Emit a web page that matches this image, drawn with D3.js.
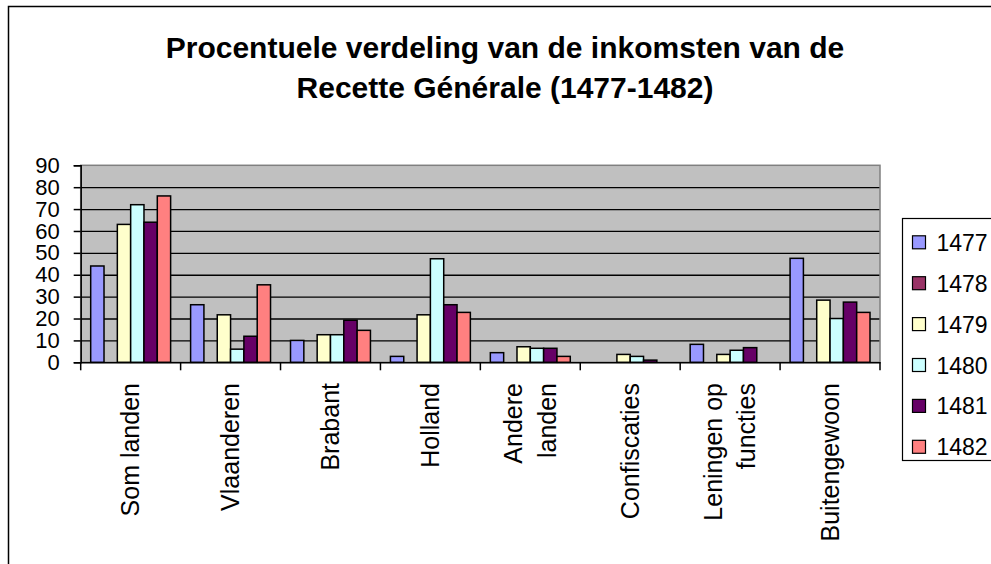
<!DOCTYPE html>
<html>
<head>
<meta charset="utf-8">
<script src="https://cdn.jsdelivr.net/npm/d3@7"></script>
<style>
  body { margin: 0; background: #fff; }
  text { font-family: "Liberation Sans", Arial, sans-serif; }
</style>
</head>
<body>
<div id="chart"></div>
<script>
// Data
const categories = ['Som landen', 'Vlaanderen', 'Brabant', 'Holland', 'Andere landen',
  'Confiscaties', 'Leningen op functies', 'Buitengewoon'];
const categoryLines = [['Som landen'], ['Vlaanderen'], ['Brabant'], ['Holland'], ['Andere', 'landen'],
  ['Confiscaties'], ['Leningen op', 'functies'], ['Buitengewoon']];
const years = ['1477', '1478', '1479', '1480', '1481', '1482'];
const v1477 = [44, 26.3, 10, 2.7, 4.4, 0, 8.2, 47.5];
const v1478 = [null, null, null, null, null, null, null, null];
const v1479 = [63, 21.7, 12.6, 21.7, 7.1, 3.6, 3.6, 28.4];
const v1480 = [72, 6, 12.6, 47.3, 6.4, 2.7, 5.5, 20];
const v1481 = [64, 11.9, 19.2, 26.3, 6.4, 1, 6.7, 27.5];
const v1482 = [76, 35.4, 14.6, 22.8, 2.7, 0, 0, 22.8];
const seriesValues = [v1477, v1478, v1479, v1480, v1481, v1482];
const colors = ['#9999FF', '#993366', '#FFFFCC', '#CCFFFF', '#660066', '#FF8080'];
const yTicks = [0, 10, 20, 30, 40, 50, 60, 70, 80, 90];
const titleLines = ['Procentuele verdeling van de inkomsten van de', 'Recette Générale (1477-1482)'];

const width = 991;
const height = 564;
const plot = { left: 80.7, right: 880, top: 165.3, bottom: 362.3 };

const svg = d3.select('#chart')
  .append('svg')
  .attr('width', width)
  .attr('height', height);

// Outer frame
svg.append('rect')
  .attr('x', 8.5).attr('y', 6.5)
  .attr('width', 1000).attr('height', 600)
  .attr('fill', 'white')
  .attr('stroke', 'black')
  .attr('stroke-width', 1.5);

// Title
svg.append('text')
  .attr('text-anchor', 'middle')
  .style('font-size', '30px')
  .style('font-weight', 'bold')
  .selectAll('tspan')
  .data(titleLines)
  .enter()
  .append('tspan')
  .attr('x', 505)
  .attr('y', (d, i) => 58 + i * 40)
  .text(d => d);

// Scales
const x0 = d3.scaleBand()
  .domain(categories)
  .range([plot.left, plot.right])
  .padding(0);

const x1 = d3.scaleBand()
  .domain(years)
  .range([0, x0.bandwidth()])
  .paddingInner(0)
  .paddingOuter(0.75);

const y = d3.scaleLinear()
  .domain([0, 90])
  .range([plot.bottom, plot.top]);

const color = d3.scaleOrdinal().domain(years).range(colors);

// Plot background
svg.append('rect')
  .attr('x', plot.left).attr('y', plot.top)
  .attr('width', plot.right - plot.left)
  .attr('height', plot.bottom - plot.top)
  .attr('fill', '#C0C0C0');

// Gridlines
const grid = svg.append('g')
  .attr('transform', `translate(${plot.left},0)`)
  .call(d3.axisLeft(y)
    .tickValues(yTicks.filter(t => t > 0 && t < 90))
    .tickSize(-(plot.right - plot.left))
    .tickFormat(''));
grid.select('.domain').remove();
grid.selectAll('.tick line').attr('stroke', 'black').attr('stroke-width', 1.3);

// Plot border
svg.append('rect')
  .attr('x', plot.left).attr('y', plot.top)
  .attr('width', plot.right - plot.left)
  .attr('height', plot.bottom - plot.top)
  .attr('fill', 'none')
  .attr('stroke', '#808080')
  .attr('stroke-width', 1.5);

// Bars
const rows = [];
categories.forEach((c, ci) => {
  years.forEach((yr, si) => {
    const v = seriesValues[si][ci];
    if (v !== null && v > 0) rows.push({ category: c, year: yr, value: v });
  });
});

svg.append('g')
  .selectAll('rect')
  .data(rows)
  .enter()
  .append('rect')
  .attr('x', d => x0(d.category) + x1(d.year))
  .attr('y', d => y(d.value))
  .attr('width', x1.bandwidth())
  .attr('height', d => y(0) - y(d.value))
  .attr('fill', d => color(d.year))
  .attr('stroke', 'black')
  .attr('stroke-width', 1.5);

// Y axis
const yAxis = svg.append('g')
  .attr('transform', `translate(${plot.left},0)`)
  .call(d3.axisLeft(y).tickValues(yTicks).tickSize(7).tickPadding(14));
yAxis.select('.domain').attr('stroke', 'black').attr('stroke-width', 1.5);
yAxis.selectAll('.tick line').attr('stroke', 'black').attr('stroke-width', 1.5);
yAxis.selectAll('.tick text')
  .style('font-size', '22px')
  .style('font-family', '"Liberation Sans", Arial, sans-serif')
  .attr('fill', 'black');

// X axis line
const xAxis = svg.append('g')
  .attr('transform', `translate(0,${plot.bottom})`)
  .call(d3.axisBottom(x0).tickSize(0).tickFormat(''));
xAxis.select('.domain').attr('stroke', 'black').attr('stroke-width', 1.5);

// Tick marks between categories
const boundaries = categories.map(c => x0(c)).concat([plot.right]);
svg.append('g')
  .selectAll('line')
  .data(boundaries)
  .enter()
  .append('line')
  .attr('x1', d => d).attr('x2', d => d)
  .attr('y1', plot.bottom).attr('y2', plot.bottom + 8)
  .attr('stroke', 'black')
  .attr('stroke-width', 1.5);

// Category labels (rotated)
const lineGap = 33.3;
svg.append('g')
  .selectAll('text')
  .data(categories)
  .enter()
  .append('text')
  .attr('transform', d => `translate(${x0(d) + x0.bandwidth() / 2},383) rotate(-90)`)
  .attr('text-anchor', 'end')
  .style('font-size', '25px')
  .each(function (d, i) {
    const lines = categoryLines[i];
    d3.select(this).selectAll('tspan')
      .data(lines)
      .enter()
      .append('tspan')
      .attr('x', 0)
      .attr('y', (l, j) => 8.7 - lineGap * (lines.length - 1) / 2 + lineGap * j)
      .text(l => l);
  });

// Legend
const legend = svg.append('g');
legend.append('rect')
  .attr('x', 902.5).attr('y', 218.5)
  .attr('width', 120).attr('height', 242)
  .attr('fill', 'white')
  .attr('stroke', 'black')
  .attr('stroke-width', 1.2);

const items = legend.selectAll('g.item')
  .data(years)
  .enter()
  .append('g')
  .attr('class', 'item')
  .attr('transform', (d, i) => `translate(0,${242.3 + i * 40.9})`);

items.append('rect')
  .attr('x', 912.5).attr('y', -6.5)
  .attr('width', 13).attr('height', 13)
  .attr('fill', d => color(d))
  .attr('stroke', 'black')
  .attr('stroke-width', 1.2);

items.append('text')
  .attr('x', 936.5)
  .attr('y', 8.5)
  .style('font-size', '23px')
  .text(d => d);
</script>
</body>
</html>
